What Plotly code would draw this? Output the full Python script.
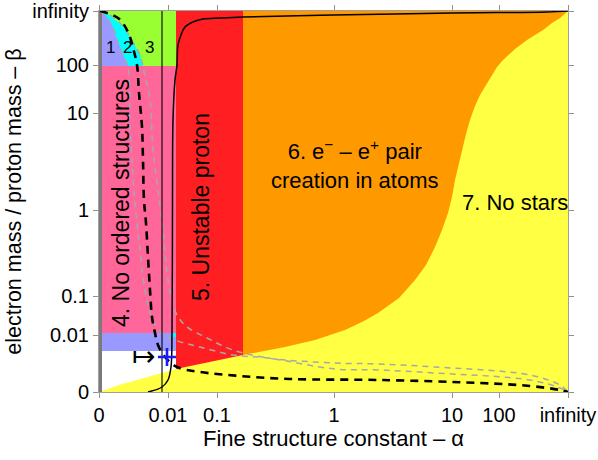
import plotly.graph_objects as go

# ---------------- axis ticks (positions on the chart's compressed scale: 0 -> zero, max -> infinity)
x_tick_pos = [0, 69, 118, 235, 353, 400, 469]
x_tick_text = ["0", "0.01", "0.1", "1", "10", "100", "infinity"]
y_tick_pos = [0, 57, 96, 182, 279, 327, 381]
y_tick_text = ["0", "0.01", "0.1", "1", "10", "100", "infinity"]
X_MAX = 469
Y_MAX = 381

# ---------------- region boundaries (compressed alpha / beta scale)
proton_alpha_min = 77      # left edge of region 5 (unstable proton)
pair_alpha_min = 144       # left edge of region 6 (pair creation)
blue_band = [41, 59]
pink_band = [59, 326]
top_band = [326, 381]
cyan_patch_x = [73, 77]
cyan_patch_y = [55, 59]
gray_strip_x = [0, 3]

# lower edge of the "no stars" boundary
stars_x = [0, 20, 45, 77, 110, 144, 165, 186, 216, 246, 265, 279, 300, 316, 327, 336, 343, 349, 353, 356,
           360, 363, 367, 371, 376, 381, 387, 393, 398, 404, 416, 428, 436, 444, 453, 461, 469]
stars_y = [0, 7, 14, 23, 30, 37, 41, 45, 52, 62, 71, 79, 94, 112, 127, 145, 162, 179, 195, 212,
           228, 242, 258, 272, 286, 297, 308, 317, 325, 332, 343, 352, 357, 362, 369, 374, 381]

# sub-regions 1, 2, 3
purple_edge_x = [1, 4, 13, 19, 24, 29]
purple_edge_y = [381, 380, 367, 350, 337, 326]
cyan_edge_x = [1, 6, 23, 34, 41, 44]
cyan_edge_y = [381, 380, 367, 350, 337, 326]

# ---------------- curves
black_dash_x = [1, 19, 29, 34, 38, 40, 43, 44, 45, 47, 49, 51, 53, 56, 59, 66, 78, 101, 141, 191, 281, 381, 431, 461, 469]
black_dash_y = [381, 374, 360, 344, 327, 299, 265, 232, 192, 169, 135, 102, 75, 59, 47, 35, 25, 20, 16, 13, 12, 9, 6, 2, 0]

gray1_x = [1, 13, 19, 24, 29, 31, 33, 35, 38, 41, 46, 53, 63, 76, 101, 134, 169, 236, 281, 336, 431, 461, 469]
gray1_y = [381, 367, 350, 337, 325, 265, 232, 199, 169, 142, 102, 74, 59, 52, 45, 37, 34, 23, 22, 19, 12, 4, 0]
gray2_x = [1, 6, 23, 34, 41, 44, 51, 54, 59, 64, 68, 73, 78, 88, 108, 134, 169, 236, 281, 336, 431, 461, 469]
gray2_y = [381, 380, 367, 350, 337, 325, 292, 242, 202, 162, 119, 92, 77, 65, 54, 42, 34, 29, 28, 25, 17, 7, 0]

solid_vert_x = [63, 63]
solid_vert_y = [0, 381]
solid_curve_x = [49, 63, 69, 72, 73, 73.5, 74, 76, 78, 79, 82, 86, 94, 104, 121, 144, 234, 353, 448, 469]
solid_curve_y = [0, 5, 12, 25, 59, 192, 272, 312, 327, 347, 357, 365, 370, 373, 374, 375, 377, 379, 380, 381]

observed_x = [68]
observed_y = [35]

# ---------------- colours
C_YELLOW = "#ffff44"
C_ORANGE = "#ff9900"
C_RED = "#ff1f22"
C_PINK = "#ff6699"
C_LAV = "#9999ff"
C_CYAN = "#00ffff"
C_GREEN = "#99ff33"
FONT = "Liberation Sans, Arial, sans-serif"

fig = go.Figure()


def poly(xs, ys, color):
    fig.add_trace(go.Scatter(x=list(xs) + [xs[0]], y=list(ys) + [ys[0]], mode="lines",
                             fill="toself", fillcolor=color, line=dict(width=0, color=color),
                             hoverinfo="skip", showlegend=False))


def rect(x0, x1, y0, y1, color):
    poly([x0, x1, x1, x0], [y0, y0, y1, y1], color)


def edge_between(lo, hi):
    xs = [p for p in stars_x if lo <= p <= hi]
    ys = [stars_y[i] for i, p in enumerate(stars_x) if lo <= p <= hi]
    return xs, ys


# 7. no stars (background)
rect(0, X_MAX, 0, Y_MAX, C_YELLOW)

# 6. orange
ox, oy = edge_between(pair_alpha_min, X_MAX)
poly([pair_alpha_min, X_MAX] + ox[::-1], [Y_MAX, Y_MAX] + oy[::-1], C_ORANGE)

# 5. red
rx, ry = edge_between(proton_alpha_min, pair_alpha_min)
poly([proton_alpha_min, pair_alpha_min] + rx[::-1], [Y_MAX, Y_MAX] + ry[::-1], C_RED)

# white wedge under blue band
wx, wy = edge_between(0, proton_alpha_min)
poly([0, proton_alpha_min] + wx[::-1], [blue_band[0], blue_band[0]] + wy[::-1], "#ffffff")

rect(0, proton_alpha_min, blue_band[0], blue_band[1], C_LAV)
rect(0, proton_alpha_min, pink_band[0], pink_band[1], C_PINK)
rect(cyan_patch_x[0], cyan_patch_x[1], cyan_patch_y[0], cyan_patch_y[1], C_CYAN)
rect(0, proton_alpha_min, top_band[0], top_band[1], C_GREEN)
poly([0] + cyan_edge_x + [0], [Y_MAX] + cyan_edge_y + [top_band[0]], C_CYAN)
poly([0] + purple_edge_x + [0], [Y_MAX] + purple_edge_y + [top_band[0]], C_LAV)
rect(gray_strip_x[0], gray_strip_x[1], 0, Y_MAX, "#7a7a7a")

# lines
for gx, gy in [(gray1_x, gray1_y), (gray2_x, gray2_y)]:
    fig.add_trace(go.Scatter(x=gx, y=gy, mode="lines", line=dict(color="#a8a8a8", width=1.5, dash="6px,5px"),
                             line_shape="spline", hoverinfo="skip", showlegend=False))
fig.add_trace(go.Scatter(x=black_dash_x, y=black_dash_y, mode="lines",
                         line=dict(color="black", width=2.6, dash="8px,6px"), line_shape="spline",
                         hoverinfo="skip", showlegend=False))
fig.add_trace(go.Scatter(x=solid_vert_x, y=solid_vert_y, mode="lines", line=dict(color="black", width=1.1),
                         hoverinfo="skip", showlegend=False))
fig.add_trace(go.Scatter(x=solid_curve_x, y=solid_curve_y, mode="lines", line=dict(color="black", width=1.5),
                         line_shape="spline", hoverinfo="skip", showlegend=False))
fig.add_trace(go.Scatter(x=observed_x, y=observed_y, mode="markers",
                         marker=dict(symbol="cross-thin", size=13, line=dict(color="#1a1aff", width=2.6)),
                         hoverinfo="skip", showlegend=False))


# text labels
def label(x, y, text, size=22, angle=0, xanchor="center"):
    fig.add_annotation(x=x, y=y, text=text, showarrow=False, textangle=angle, xanchor=xanchor,
                       yanchor="middle", font=dict(family=FONT, size=size, color="black"))


label(11, 345, "1", 17)
label(28, 345, "2", 17)
label(50, 345, "3", 17)
label(22, 189, "4. No ordered structures", 23, -90)
label(102, 185, "5. Unstable proton", 23, -90)
label(170, 228, "6. e<sup>−</sup> – e<sup>+</sup> pair<br>creation in atoms", 22, 0, "left")
label(416, 190, "7. No stars", 22)
label(44, 36, "↦", 28)

axis_common = dict(showline=True, linecolor="#a0a0a0", linewidth=1, mirror="ticks", ticks="outside",
                   ticklen=5, tickcolor="#909090", showgrid=False, zeroline=False, automargin=False,
                   tickfont=dict(family=FONT, size=20, color="black"))
fig.update_xaxes(range=[0, X_MAX], tickmode="array", tickvals=x_tick_pos, ticktext=x_tick_text,
                 title=dict(text="Fine structure constant – α", font=dict(family=FONT, size=22, color="black"),
                            standoff=2), **axis_common)
fig.update_yaxes(range=[0, Y_MAX], tickmode="array", tickvals=y_tick_pos, ticktext=y_tick_text,
                 title=dict(text="electron mass / proton mass – β", font=dict(family=FONT, size=21.5, color="black"),
                            standoff=4), **axis_common)
fig.update_layout(width=598, height=460, margin=dict(l=99, r=30, t=11, b=68),
                  plot_bgcolor="white", paper_bgcolor="white", showlegend=False)

# remove the page's default body margin so the figure sits at the window's corner
fig.write_html("out.html", config={"displayModeBar": False},
               post_script="document.body.style.margin='0';document.body.style.overflow='hidden';")
